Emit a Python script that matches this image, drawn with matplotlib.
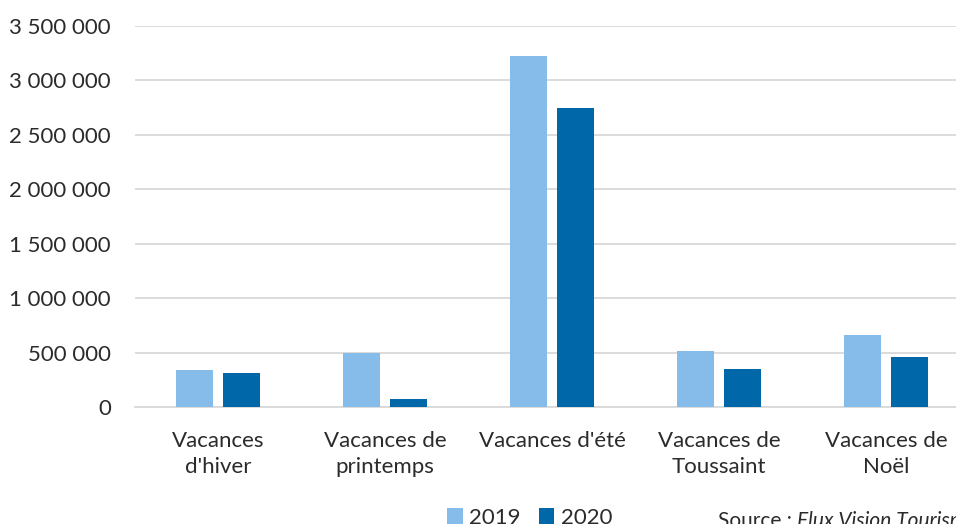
import matplotlib
matplotlib.use("Agg")
import matplotlib.pyplot as plt
from matplotlib.ticker import FuncFormatter, MultipleLocator
import numpy as np

categories = ["Vacances\nd'hiver", "Vacances de\nprintemps", "Vacances d'été",
              "Vacances de\nToussaint", "Vacances de\nNoël"]
series_names = ["2019", "2020"]
values_2019 = [340000, 496000, 3227000, 517000, 657000]
values_2020 = [312000, 73000, 2745000, 349000, 459000]
source_label = "Source : "
source_name = "Flux Vision Tourisme"

col_2019 = "#85BCEA"
col_2020 = "#0068A8"
text_col = "#2b2b2b"
grid_col = "#d9d9d9"

plt.rcParams['font.family'] = ['Lato', 'DejaVu Sans']

fig = plt.figure(figsize=(9.56, 5.24), dpi=100)
ax = fig.add_axes([0.1407, 0.2233, 1.0141 - 0.1407, 0.9504 - 0.2233])

x = np.arange(len(categories))
w = 0.222
off = 0.141
b1 = ax.bar(x - off, values_2019, width=w, color=col_2019, label=series_names[0], zorder=3)
b2 = ax.bar(x + off, values_2020, width=w, color=col_2020, label=series_names[1], zorder=3)

ax.set_xlim(-0.5, len(categories) - 0.5)
ax.set_ylim(0, 3500000)
ax.yaxis.set_major_locator(MultipleLocator(500000))
ax.yaxis.set_major_formatter(FuncFormatter(lambda v, p: f"{int(v):,}".replace(",", " ")))
ax.grid(axis='y', color=grid_col, linewidth=1.3, zorder=0)
ax.set_axisbelow(True)
for s in ['top', 'right', 'left']:
    ax.spines[s].set_visible(False)
ax.spines['bottom'].set_color(grid_col)
ax.spines['bottom'].set_linewidth(1.3)

ax.set_xticks(x)
ax.set_xticklabels(categories, linespacing=1.42)
ax.tick_params(axis='both', length=0, labelsize=16, labelcolor=text_col)
ax.tick_params(axis='y', pad=17)
ax.tick_params(axis='x', pad=17)

fig.legend(handles=[b1, b2], labels=series_names, loc='center', ncol=2,
           bbox_to_anchor=(0.554, 0.012), frameon=False, fontsize=16,
           handlelength=0.7, handleheight=0.7, handletextpad=0.3,
           columnspacing=0.8, labelcolor=text_col)

fig.text(718 / 956, 0.006, source_label, fontsize=15, color=text_col, va='center', ha='left')
fig.text(797 / 956, 0.006, source_name, fontsize=15, color=text_col, va='center', ha='left',
         style='italic')

fig.savefig("out.png", dpi=100)
